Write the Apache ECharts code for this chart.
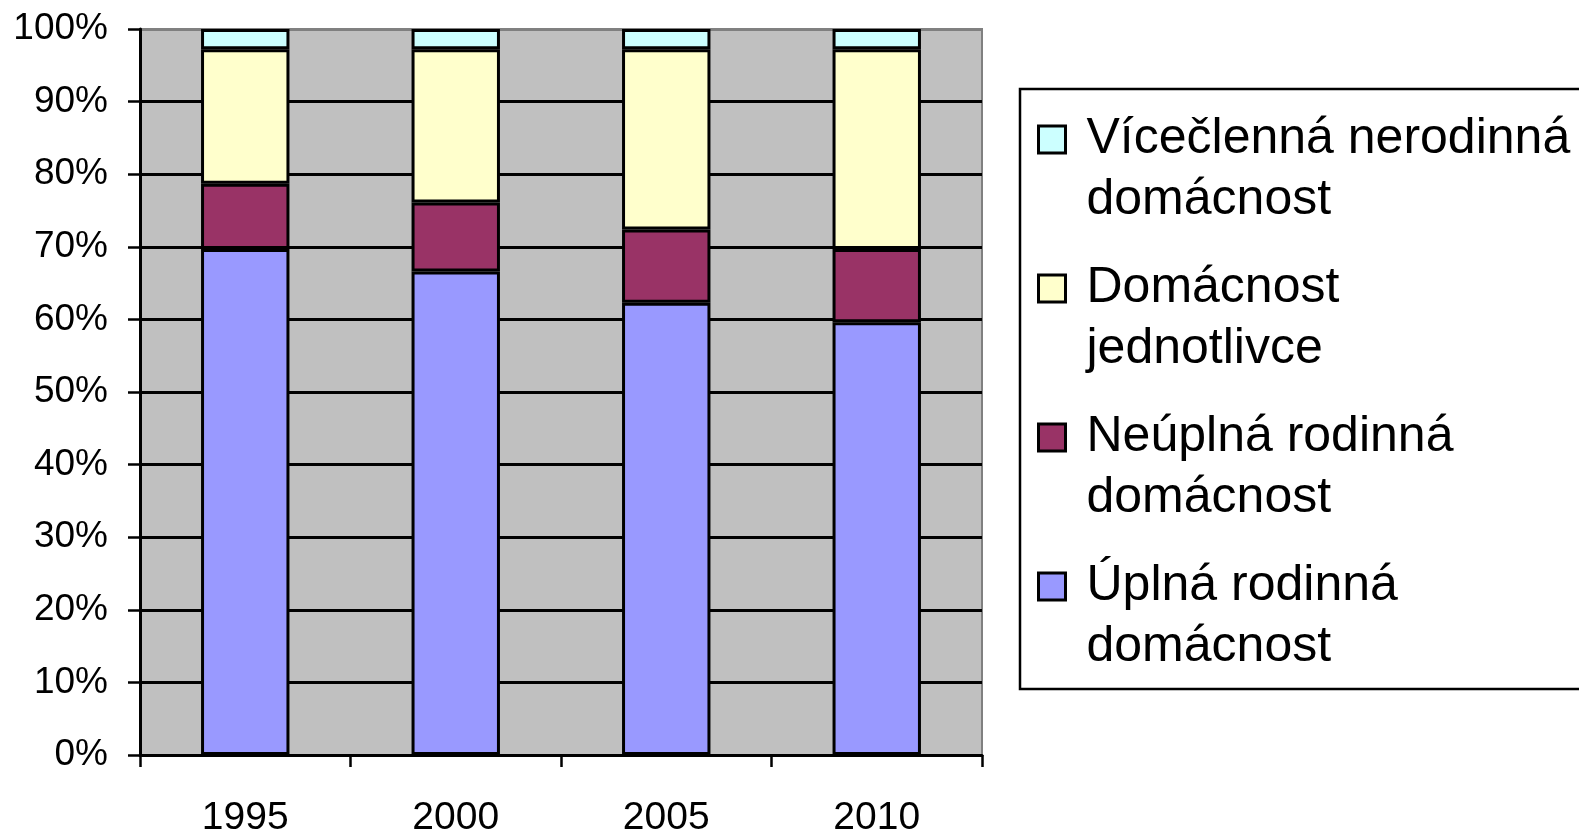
<!DOCTYPE html>
<html>
<head>
<meta charset="utf-8">
<title>Domácnosti</title>
<script src="https://cdn.jsdelivr.net/npm/echarts@6/dist/echarts.min.js"></script>
<style>
  html, body { margin: 0; padding: 0; background: #fff; }
  #chart { width: 1579px; height: 834px; }
</style>
</head>
<body>
<div id="chart"></div>
<script>
  // roky
  var years = ['1995', '2000', '2005', '2010'];
  // podily v %, zdola nahoru
  var uplna = [69.7, 66.6, 62.3, 59.6];
  var neuplna = [9.0, 9.5, 10.1, 10.1];
  var jednotlivci = [18.5, 21.1, 24.8, 27.5];
  var nerodinna = [2.8, 2.8, 2.8, 2.8];

  var names = ['Úplná rodinná\ndomácnost', 'Neúplná rodinná\ndomácnost', 'Domácnost\njednotlivce', 'Vícečlenná nerodinná\ndomácnost'];
  var colors = ['#9999FF', '#993366', '#FFFFCC', '#CCFFFF'];
  var values = [uplna, neuplna, jednotlivci, nerodinna];

  var series = names.map(function (n, i) {
    return {
      name: n,
      type: 'bar',
      stack: 'total',
      barWidth: '42%',
      data: values[i],
      itemStyle: { color: colors[i], borderColor: '#000', borderWidth: 3 }
    };
  });

  var splitColors = [];
  for (var i = 0; i < 10; i++) splitColors.push('#000');
  splitColors.push('#808080');

  var myChart = echarts.init(document.getElementById('chart'));
  myChart.setOption({
    animation: false,
    textStyle: { fontFamily: 'Liberation Sans, Arial, sans-serif' },
    grid: {
      left: 140, right: 597, top: 29, height: 726,
      outerBoundsMode: 'none',
      show: true, backgroundColor: '#C0C0C0', borderColor: '#808080', borderWidth: 2
    },
    legend: {
      orient: 'vertical',
      left: 1037, top: 48,
      padding: 0,
      itemGap: -34,
      itemWidth: 27, itemHeight: 27,
      icon: 'rect',
      data: names.slice().reverse(),
      // prazdny radek navrchu, aby ikona sedela u prvniho radku textu
      formatter: function (name) { return '\n' + name; },
      itemStyle: { borderColor: '#000', borderWidth: 3 },
      textStyle: {
        fontSize: 50, lineHeight: 61, color: '#000',
        fontFamily: 'Liberation Sans, Arial, sans-serif',
        padding: [0, 0, 0, 16]
      }
    },
    graphic: [{
      type: 'rect',
      shape: { x: 1020, y: 89, width: 600, height: 600 },
      style: { fill: 'none', stroke: '#000', lineWidth: 2.5 },
      silent: true
    }],
    xAxis: {
      type: 'category',
      data: years,
      axisLine: { lineStyle: { color: '#000', width: 3 } },
      axisTick: { show: true, length: 12, lineStyle: { color: '#000', width: 2.5 } },
      axisLabel: { margin: 44, fontSize: 39, color: '#000' },
      splitLine: { show: false }
    },
    yAxis: {
      type: 'value',
      min: 0, max: 100, interval: 10,
      axisLine: { show: true, lineStyle: { color: '#000', width: 3 } },
      axisTick: { show: true, length: 12, lineStyle: { color: '#000', width: 2.5 } },
      axisLabel: { formatter: '{value}%', margin: 32, fontSize: 37, color: '#000' },
      splitLine: { show: true, lineStyle: { color: splitColors, width: 3 } }
    },
    series: series
  });
</script>
</body>
</html>
